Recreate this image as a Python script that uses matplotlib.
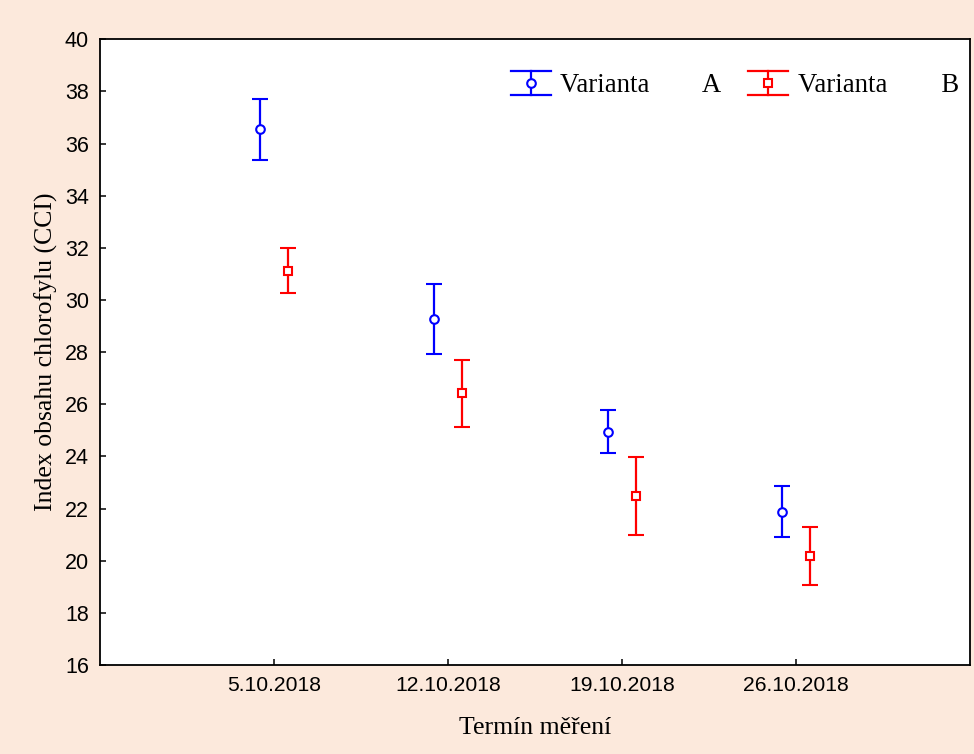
"""
Chlorophyll index (CCI) by measurement date, two variants with error bars.
"""
import numpy as np
import matplotlib
matplotlib.use("Agg")
import matplotlib.pyplot as plt
from matplotlib.lines import Line2D
from matplotlib.legend_handler import HandlerBase

## DATA
dates = ["5.10.2018", "12.10.2018", "19.10.2018", "26.10.2018"]
mean_a = [36.55, 29.26, 24.95, 21.88]
err_a = [1.17, 1.35, 0.83, 0.98]
mean_b = [31.12, 26.42, 22.49, 20.19]
err_b = [0.86, 1.28, 1.49, 1.12]

bg_color = '#FCE9DC'
serif = ['Liberation Serif', 'DejaVu Serif']
sans = ['Liberation Sans', 'DejaVu Sans']


class ErrHandler(HandlerBase):
    # legend glyph: full-width caps, vertical bar and marker in the middle
    def create_artists(self, legend, orig_handle, xdescent, ydescent,
                       width, height, fontsize, trans):
        c = orig_handle.get_color()
        x0, x1 = -xdescent, -xdescent + width
        xm = (x0 + x1) / 2
        ym = -ydescent + height / 2
        h = height * 0.62
        lw = orig_handle.get_linewidth()
        top = Line2D([x0, x1], [ym + h, ym + h], color=c, lw=lw, transform=trans)
        bot = Line2D([x0, x1], [ym - h, ym - h], color=c, lw=lw, transform=trans)
        vert = Line2D([xm, xm], [ym - h, ym + h], color=c, lw=lw, transform=trans)
        mk = Line2D([xm], [ym], color=c, marker=orig_handle.get_marker(),
                    markersize=orig_handle.get_markersize(), mfc='white',
                    mec=c, mew=orig_handle.get_markeredgewidth(),
                    linestyle='none', transform=trans)
        return [top, bot, vert, mk]


fig = plt.figure(figsize=(9.74, 7.54), dpi=100, facecolor=bg_color)
ax = fig.add_axes([0.1027, 0.118, 0.8932, 0.830])
ax.set_facecolor('white')

x = np.arange(1, len(dates) + 1)
off = 0.078

ax.errorbar(x - off, mean_a, yerr=err_a, fmt='o', color='#0000FF', mfc='white',
            mec='#0000FF', markersize=6.2, mew=1.5, elinewidth=1.6, capsize=6,
            capthick=1.6, zorder=3)
ax.errorbar(x + off, mean_b, yerr=err_b, fmt='s', color='#FF0000', mfc='white',
            mec='#FF0000', markersize=5.2, mew=1.5, elinewidth=1.6, capsize=6,
            capthick=1.6, zorder=3)

ax.set_xlim(0, 5)
ax.set_xticks(x)
ax.set_xticklabels(dates, family=sans, fontsize=15.2)
ax.set_ylim(16, 40)
ax.set_yticks(range(16, 41, 2))
ax.set_yticklabels([str(v) for v in range(16, 41, 2)], family=sans, fontsize=15.5)
ax.tick_params(direction='in', length=4, width=1.1, pad=8, colors='black')
for s in ax.spines.values():
    s.set_linewidth(1.3)

ax.set_xlabel('Termín měření', family=serif, fontsize=18.5, labelpad=16)
ax.set_ylabel('Index obsahu chlorofylu (CCI)', family=serif, fontsize=18.5, labelpad=5)

h_a = Line2D([], [], color='#0000FF', marker='o', markersize=6.2, mew=1.5, lw=1.6)
h_b = Line2D([], [], color='#FF0000', marker='s', markersize=5.2, mew=1.5, lw=1.6)
leg = ax.legend([h_a, h_b], ['Varianta        A', 'Varianta        B'],
                handler_map={Line2D: ErrHandler()}, ncol=2, loc='upper right',
                bbox_to_anchor=(1.015, 0.984), frameon=False,
                prop={'family': serif, 'size': 19.3}, handlelength=1.5,
                handletextpad=0.35, columnspacing=1.0)

fig.savefig('out.png', dpi=100, facecolor=bg_color)
